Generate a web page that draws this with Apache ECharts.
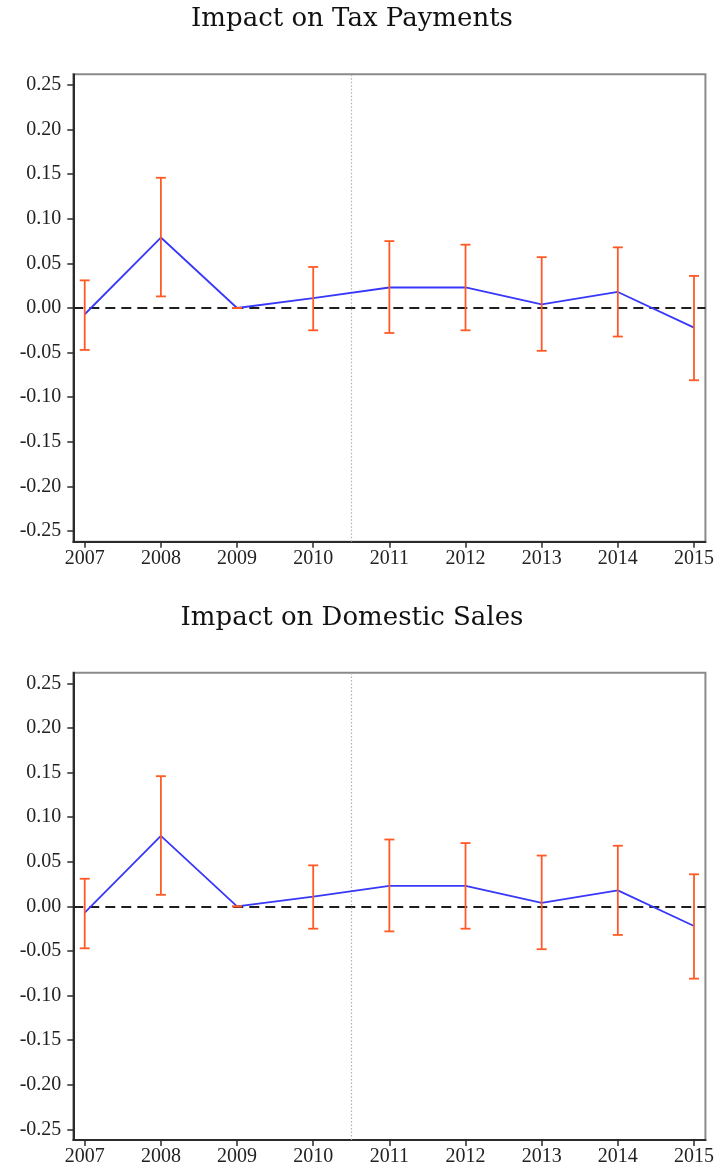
<!DOCTYPE html>
<html>
<head>
<meta charset="utf-8">
<script src="https://cdn.jsdelivr.net/npm/echarts@6/dist/echarts.min.js"></script>
<style>
html,body{margin:0;padding:0;background:#fff;}
#chart{width:717px;height:1171px;}
</style>
</head>
<body>
<div id="chart"></div>
<script>
// ---- data ----
const years = [2007, 2008, 2009, 2010, 2011, 2012, 2013, 2014, 2015];
const titles = ['Impact on Tax Payments', 'Impact on Domestic Sales'];
const yTicks = [-0.25, -0.20, -0.15, -0.10, -0.05, 0.00, 0.05, 0.10, 0.15, 0.20, 0.25];
const taxCoef  = [-0.007, 0.079, 0.000, 0.011, 0.023, 0.023, 0.004, 0.018, -0.022];
const taxLo    = [-0.047, 0.013, 0.000, -0.025, -0.028, -0.025, -0.048, -0.032, -0.081];
const taxHi    = [0.031, 0.146, 0.000, 0.046, 0.075, 0.071, 0.057, 0.068, 0.036];
const salesCoef = [-0.007, 0.079, 0.000, 0.011, 0.023, 0.023, 0.004, 0.018, -0.022];
const salesLo   = [-0.047, 0.013, 0.000, -0.025, -0.028, -0.025, -0.048, -0.032, -0.081];
const salesHi   = [0.031, 0.146, 0.000, 0.046, 0.075, 0.071, 0.057, 0.068, 0.036];
const policyBreak = 2010.5;

const panels = [
  {coef: taxCoef, lo: taxLo, hi: taxHi},
  {coef: salesCoef, lo: salesLo, hi: salesHi}
];

const BLUE = '#3838f8';
const ORANGE = '#ff5a26';
const DARK = '#2b2b2b';
const tickFont = 'Liberation Serif';

const gridTops = [74.3, 672.7];
const titleTops = [1, 600];

const option = {
  animation: false,
  backgroundColor: '#fff',
  title: titles.map((t, i) => ({
    text: t,
    left: 347,
    top: titleTops[i],
    textAlign: 'center',
    textStyle: {fontFamily: 'DejaVu Serif', fontWeight: 'normal', fontSize: 26, color: '#111'}
  })),
  grid: gridTops.map(t => ({
    left: 73.3, top: t, width: 634.2, height: 467.4,
    show: true, borderColor: '#8a8a8a', borderWidth: 2, backgroundColor: 'transparent',
    containLabel: false
  })),
  xAxis: gridTops.map((t, i) => ({
    type: 'value', gridIndex: i, min: 2006.85, max: 2015.15,
    axisLine: {show: true, onZero: false, lineStyle: {color: DARK, width: 2}},
    axisTick: {show: true, customValues: years, length: 6, lineStyle: {color: DARK, width: 1.5}},
    axisLabel: {customValues: years, formatter: v => String(Math.round(v)), fontFamily: tickFont, fontSize: 20, color: '#222', margin: 7},
    splitLine: {show: false}
  })),
  yAxis: gridTops.map((t, i) => ({
    type: 'value', gridIndex: i, min: -0.262, max: 0.262,
    axisLine: {show: true, onZero: false, lineStyle: {color: DARK, width: 2}},
    axisTick: {show: true, customValues: yTicks, length: 6, lineStyle: {color: DARK, width: 1.5}},
    axisLabel: {customValues: yTicks, formatter: v => v.toFixed(2), fontFamily: tickFont, fontSize: 20, color: '#222', margin: 12},
    splitLine: {show: false}
  })),
  series: []
};

panels.forEach((p, i) => {
  option.series.push({
    type: 'line', xAxisIndex: i, yAxisIndex: i,
    data: years.map((y, k) => [y, p.coef[k]]),
    symbol: 'none', lineStyle: {color: BLUE, width: 1.8}, z: 3,
    markLine: {
      silent: true, symbol: 'none', label: {show: false}, z: 1,
      data: [
        {yAxis: 0, lineStyle: {color: '#1e1e1e', type: [10, 6], width: 1.8}},
        {xAxis: policyBreak, lineStyle: {color: '#b0b0b0', type: [1.5, 2], width: 1.2}}
      ]
    }
  });
  option.series.push({
    type: 'custom', xAxisIndex: i, yAxisIndex: i, z: 4,
    data: years.map((y, k) => [y, p.lo[k], p.hi[k]]),
    encode: {x: 0, y: [1, 2]},
    renderItem: function (params, api) {
      const x = api.value(0);
      const a = api.coord([x, api.value(1)]);
      const b = api.coord([x, api.value(2)]);
      const w = 5;
      const st = {stroke: ORANGE, lineWidth: 1.8};
      return {
        type: 'group',
        children: [
          {type: 'line', shape: {x1: a[0], y1: a[1], x2: b[0], y2: b[1]}, style: st},
          {type: 'line', shape: {x1: a[0] - w, y1: a[1], x2: a[0] + w, y2: a[1]}, style: st},
          {type: 'line', shape: {x1: b[0] - w, y1: b[1], x2: b[0] + w, y2: b[1]}, style: st}
        ]
      };
    }
  });
});

const chart = echarts.init(document.getElementById('chart'), null, {renderer: 'canvas'});
chart.setOption(option);
</script>
</body>
</html>
